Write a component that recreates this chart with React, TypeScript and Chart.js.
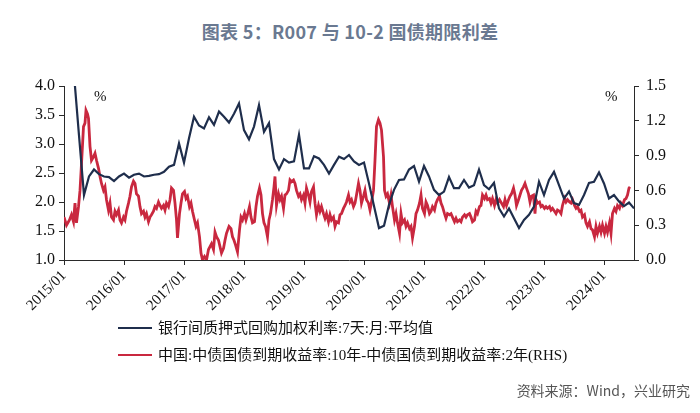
import React, { useEffect, useRef } from 'react';
import { Chart, registerables } from 'chart.js';

Chart.register(...registerables);

// x positions are months since 2015/01
const xTickLabels = ['2015/01', '2016/01', '2017/01', '2018/01', '2019/01', '2020/01', '2021/01', '2022/01', '2023/01', '2024/01'];

const leftTicks = [1.0, 1.5, 2.0, 2.5, 3.0, 3.5, 4.0];
const rightTicks = [0.0, 0.3, 0.6, 0.9, 1.2, 1.5];

// 银行间质押式回购加权利率:7天:月:平均值 (monthly, from 2015/01)
const r007Values = [
  4.5, 4.7, 4.2, 3.15, 2.12, 2.44, 2.56, 2.48, 2.44, 2.43, 2.36, 2.44,
  2.49, 2.42, 2.47, 2.49, 2.44, 2.45, 2.47, 2.48, 2.52, 2.61, 2.64, 3.01,
  2.68, 3.10, 3.47, 3.32, 3.27, 3.46, 3.33, 3.56, 3.47, 3.37, 3.52, 3.70,
  3.24, 3.08, 3.30, 3.67, 3.21, 3.36, 2.74, 2.56, 2.74, 2.68, 2.70, 3.16,
  2.58, 2.58, 2.79, 2.75, 2.64, 2.49, 2.64, 2.78, 2.74, 2.81, 2.70, 2.64,
  2.68, 2.32, 1.93, 1.55, 1.59, 1.95, 2.21, 2.38, 2.39, 2.56, 2.62, 2.35,
  2.62, 2.44, 2.21, 2.12, 2.18, 2.43, 2.24, 2.24, 2.38, 2.25, 2.29, 2.56,
  2.29, 2.22, 2.33, 1.89, 1.75, 1.89, 1.72, 1.55, 1.69, 1.78, 1.92, 2.35,
  2.12, 2.38, 2.52, 2.29, 2.06, 2.18, 1.98, 1.95, 2.12, 2.33, 2.35, 2.51,
  2.32, 2.06, 2.12, 2.01, 1.93, 1.99, 1.89,
];

// 10Y - 2Y treasury spread (RHS): sample positions (months since 2015/01) and values
const spreadMonths = [
  0.0, 0.5, 1.1, 1.5, 1.9, 2.2, 2.5, 2.9, 3.2, 3.5, 3.9, 4.2, 4.4, 4.7, 4.9, 5.2, 5.5, 5.9, 6.2, 6.5, 6.9,
  7.2, 7.5, 7.9, 8.2, 8.5, 8.9, 9.2, 9.5, 9.9, 10.2, 10.5, 10.9, 11.2, 11.5, 11.9, 12.2, 12.5, 12.9,
  13.2, 13.5, 13.9, 14.2, 14.5, 14.9, 15.2, 15.5, 15.9, 16.2, 16.5, 16.9, 17.2, 17.5, 17.9, 18.2, 18.5,
  18.9, 19.2, 19.5, 19.9, 20.2, 20.5, 20.9, 21.2, 21.5, 21.9, 22.2, 22.5, 22.7, 23.1, 23.4, 23.7, 24.1,
  24.4, 24.7, 25.1, 25.4, 25.7, 26.1, 26.4, 26.7, 27.1, 27.4, 27.7, 28.1, 28.5, 28.9, 29.2, 29.5, 29.9,
  30.2, 30.5, 30.9, 31.2, 31.5, 31.9, 32.2, 32.5, 33.0, 33.4, 33.7, 34.0, 34.3, 34.7, 35.1, 35.4, 35.7,
  36.1, 36.4, 36.7, 37.1, 37.4, 37.7, 38.1, 38.4, 38.7, 39.1, 39.4, 39.7, 40.0, 40.3, 40.7, 41.0, 41.3,
  41.7, 42.0, 42.2, 42.5, 42.9, 43.2, 43.5, 43.9, 44.2, 44.5, 44.9, 45.2, 45.5, 45.9, 46.2, 46.5, 46.9,
  47.2, 47.5, 47.9, 48.2, 48.5, 48.9, 49.2, 49.5, 49.9, 50.2, 50.5, 50.9, 51.2, 51.5, 51.9, 52.2, 52.5,
  52.9, 53.2, 53.5, 53.9, 54.2, 54.5, 54.9, 55.2, 55.5, 55.9, 56.2, 56.5, 56.9, 57.2, 57.5, 57.9, 58.2,
  58.5, 58.9, 59.2, 59.5, 59.9, 60.2, 60.5, 60.9, 61.2, 61.5, 61.9, 62.2, 62.5, 62.9, 63.2, 63.5, 63.9,
  64.1, 64.4, 64.7, 65.1, 65.4, 65.7, 66.1, 66.4, 66.7, 67.1, 67.4, 67.7, 68.1, 68.4, 68.7, 69.1, 69.4,
  69.7, 70.1, 70.4, 70.7, 71.1, 71.4, 71.7, 72.1, 72.4, 72.7, 73.1, 73.4, 73.7, 74.1, 74.4, 74.7, 75.1,
  75.4, 75.7, 76.1, 76.4, 76.7, 77.1, 77.4, 77.7, 78.1, 78.4, 78.7, 79.1, 79.4, 79.7, 80.1, 80.4, 80.7,
  81.1, 81.4, 81.7, 82.1, 82.4, 82.7, 83.1, 83.4, 83.7, 84.1, 84.4, 84.7, 85.1, 85.4, 85.7, 86.1, 86.4,
  86.7, 87.1, 87.5, 87.9, 88.2, 88.5, 88.9, 89.2, 89.5, 89.9, 90.2, 90.5, 90.9, 91.2, 91.5, 91.9, 92.2,
  92.5, 92.9, 93.2, 93.5, 93.9, 94.2, 94.4, 94.7, 95.1, 95.4, 95.7, 96.1, 96.4, 96.7, 97.1, 97.4, 97.7,
  98.1, 98.4, 98.7, 99.1, 99.4, 99.7, 100.1, 100.4, 100.7, 101.1, 101.4, 101.7, 102.1, 102.4, 102.7,
  103.1, 103.4, 103.7, 104.1, 104.4, 104.7, 105.1, 105.4, 105.7, 106.1, 106.4, 106.7, 107.1, 107.4,
  107.7, 108.1, 108.4, 108.7, 109.1, 109.4, 109.7, 110.1, 110.4, 110.7, 111.1, 111.4, 111.7, 112.1,
  112.4, 112.7, 113.0, 113.2,
];

const spreadValues = [
  0.37, 0.30, 0.345, 0.39, 0.33, 0.49, 0.32, 0.46, 0.60, 0.83, 1.15, 1.18, 1.29, 1.26, 1.22, 0.98, 0.86, 0.89, 0.92, 0.86, 0.79,
  0.72, 0.66, 0.60, 0.63, 0.52, 0.43, 0.49, 0.37, 0.345, 0.42, 0.39, 0.43, 0.345, 0.32, 0.37, 0.345, 0.42, 0.49,
  0.55, 0.63, 0.68, 0.66, 0.57, 0.55, 0.46, 0.40, 0.42, 0.37, 0.40, 0.33, 0.37, 0.39, 0.42, 0.46, 0.445,
  0.50, 0.47, 0.445, 0.47, 0.43, 0.49, 0.46, 0.52, 0.62, 0.60, 0.49, 0.345, 0.19, 0.40, 0.49, 0.57, 0.59,
  0.53, 0.55, 0.46, 0.49, 0.42, 0.345, 0.29, 0.32, 0.20, 0.06, 0.0, 0.03, 0.0, 0.09, 0.115, 0.14, 0.09,
  0.24, 0.20, 0.17, 0.115, 0.06, 0.10, 0.17, 0.23, 0.29, 0.27, 0.20, 0.17, 0.13, 0.07, 0.26, 0.37, 0.345,
  0.40, 0.345, 0.39, 0.46, 0.37, 0.32, 0.33, 0.46, 0.55, 0.62, 0.56, 0.40, 0.32, 0.29, 0.20, 0.345, 0.40,
  0.52, 0.63, 0.72, 0.47, 0.57, 0.52, 0.55, 0.445, 0.56, 0.57, 0.60, 0.69, 0.675, 0.69, 0.66, 0.60, 0.55,
  0.57, 0.52, 0.56, 0.49, 0.62, 0.56, 0.50, 0.59, 0.63, 0.49, 0.39, 0.47, 0.42, 0.46, 0.40, 0.36, 0.40,
  0.33, 0.39, 0.345, 0.37, 0.29, 0.33, 0.32, 0.39, 0.40, 0.445, 0.47, 0.50, 0.56, 0.50, 0.52, 0.46, 0.49,
  0.56, 0.66, 0.60, 0.49, 0.55, 0.60, 0.52, 0.49, 0.43, 0.50, 0.60, 0.86, 1.15, 1.21, 1.18, 1.12, 0.89,
  0.60, 0.55, 0.57, 0.49, 0.56, 0.46, 0.345, 0.40, 0.32, 0.23, 0.40, 0.32, 0.345, 0.29, 0.32, 0.27, 0.29,
  0.19, 0.29, 0.40, 0.43, 0.49, 0.56, 0.445, 0.40, 0.50, 0.47, 0.40, 0.42, 0.46, 0.43, 0.49, 0.52, 0.55,
  0.49, 0.46, 0.40, 0.36, 0.40, 0.39, 0.40, 0.37, 0.33, 0.36, 0.33, 0.345, 0.33, 0.37, 0.39, 0.37, 0.39,
  0.40, 0.37, 0.33, 0.345, 0.42, 0.40, 0.46, 0.47, 0.56, 0.53, 0.56, 0.52, 0.53, 0.49, 0.53, 0.47, 0.52,
  0.49, 0.52, 0.49, 0.46, 0.52, 0.47, 0.52, 0.55, 0.57, 0.62, 0.56, 0.47, 0.52, 0.56, 0.60, 0.63, 0.66,
  0.62, 0.57, 0.50, 0.55, 0.56, 0.40, 0.52, 0.49, 0.50, 0.46, 0.47, 0.445, 0.46, 0.445, 0.46, 0.43, 0.445,
  0.42, 0.40, 0.43, 0.42, 0.40, 0.47, 0.53, 0.50, 0.52, 0.50, 0.49, 0.52, 0.47, 0.445, 0.46,
  0.42, 0.43, 0.37, 0.39, 0.32, 0.29, 0.33, 0.27, 0.26, 0.20, 0.29, 0.23, 0.29, 0.24,
  0.30, 0.23, 0.29, 0.24, 0.32, 0.23, 0.40, 0.445, 0.42, 0.47, 0.445, 0.49, 0.47, 0.52,
  0.53, 0.56, 0.62, 0.63,
];

const seriesNames = [
  '银行间质押式回购加权利率:7天:月:平均值',
  '中国:中债国债到期收益率:10年-中债国债到期收益率:2年(RHS)',
];
const seriesColors = ['#1f2e4c', '#c9283f'];

const W = 700;
const H = 413;
const serif = '"Liberation Serif", "Times New Roman", serif';
const cjk = '"Liberation Serif", "Noto Sans CJK SC", serif';

export default function App() {
  const ref = useRef<HTMLCanvasElement | null>(null);

  useEffect(() => {
    const canvas = ref.current;
    if (!canvas) return;
    const blue = r007Values.map((v, i) => ({ x: i, y: v }));
    const red = spreadMonths.map((m, i) => ({ x: m, y: spreadValues[i] }));
    const axisColor = '#2a2a2a';
    const chart = new Chart(canvas, {
      type: 'line',
      data: {
        datasets: [
          {
            label: seriesNames[0],
            data: blue,
            yAxisID: 'y',
            borderColor: seriesColors[0],
            borderWidth: 2.2,
            pointRadius: 0,
            tension: 0,
          },
          {
            label: seriesNames[1],
            data: red,
            yAxisID: 'y1',
            borderColor: seriesColors[1],
            borderWidth: 2.8,
            pointRadius: 0,
            tension: 0,
          },
        ],
      },
      options: {
        responsive: false,
        animation: false,
        devicePixelRatio: 1,
        layout: { padding: { left: 0, right: 0, top: 86, bottom: 93 } },
        plugins: {
          legend: { display: false },
          tooltip: { enabled: false },
          title: { display: false },
        },
        scales: {
          x: {
            type: 'linear',
            min: 0,
            max: 114,
            afterBuildTicks: (scale: any) => {
              scale.ticks = xTickLabels.map((_, i) => ({ value: i * 12 }));
            },
            afterFit: (scale: any) => {
              scale.height = 60;
            },
            ticks: {
              autoSkip: false,
              minRotation: 45,
              maxRotation: 45,
              padding: 2,
              color: '#111',
              font: { family: serif, size: 15 },
              callback: (v: any) => xTickLabels[Math.round(Number(v) / 12)] ?? '',
            },
            grid: { display: true, drawOnChartArea: false, drawTicks: true, tickLength: 5, color: axisColor },
            border: { display: true, color: axisColor, width: 1 },
          },
          y: {
            type: 'linear',
            position: 'left',
            min: 1.0,
            max: 4.0,
            afterBuildTicks: (scale: any) => {
              scale.ticks = leftTicks.map((v) => ({ value: v }));
            },
            afterFit: (scale: any) => {
              scale.width = 64;
            },
            ticks: {
              padding: 4,
              color: '#111',
              font: { family: serif, size: 16 },
              callback: (v: any) => Number(v).toFixed(1),
            },
            grid: { display: true, drawOnChartArea: false, drawTicks: true, tickLength: 5, color: axisColor },
            border: { display: true, color: axisColor, width: 1 },
          },
          y1: {
            type: 'linear',
            position: 'right',
            min: 0,
            max: 1.5,
            afterBuildTicks: (scale: any) => {
              scale.ticks = rightTicks.map((v) => ({ value: v }));
            },
            afterFit: (scale: any) => {
              scale.width = 66;
            },
            ticks: {
              padding: 7,
              color: '#111',
              font: { family: serif, size: 16 },
              callback: (v: any) => Number(v).toFixed(1),
            },
            grid: { display: true, drawOnChartArea: false, drawTicks: true, tickLength: 5, color: axisColor },
            border: { display: true, color: axisColor, width: 1 },
          },
        },
      },
    });
    return () => chart.destroy();
  }, []);

  return (
    <div style={{ position: 'fixed', left: 0, top: 0, width: W, height: H, background: '#fff', overflow: 'hidden' }}>
      <div
        style={{
          position: 'absolute',
          left: 0,
          top: 19,
          width: W,
          textAlign: 'center',
          fontFamily: '"Noto Sans CJK SC", "Noto Sans", sans-serif',
          fontSize: 18,
          fontWeight: 700,
          lineHeight: '24px',
          letterSpacing: '0.3px',
          color: '#6a7991',
        }}
      >
        图表 5：R007 与 10-2 国债期限利差
      </div>
      <canvas ref={ref} width={W} height={H} style={{ position: 'absolute', left: 0, top: 0, width: W, height: H }} />
      <div style={{ position: 'absolute', left: 94, top: 87, fontFamily: serif, fontSize: 15, lineHeight: '18px', color: '#111' }}>%</div>
      <div style={{ position: 'absolute', left: 605, top: 87, fontFamily: serif, fontSize: 15, lineHeight: '18px', color: '#111' }}>%</div>
      {seriesNames.map((name, i) => (
        <div
          key={name}
          style={{ position: 'absolute', left: 118, top: 317 + i * 27, height: 22, display: 'flex', alignItems: 'center' }}
        >
          <div style={{ width: 34, height: 2.5, background: seriesColors[i], marginRight: 6 }} />
          <div style={{ fontFamily: cjk, fontSize: 15, lineHeight: '22px', color: '#111', whiteSpace: 'nowrap' }}>{name}</div>
        </div>
      ))}
      <div
        style={{
          position: 'absolute',
          right: 10,
          top: 380,
          fontFamily: '"Noto Sans CJK SC", sans-serif',
          fontSize: 14,
          lineHeight: '20px',
          color: '#555',
          whiteSpace: 'nowrap',
        }}
      >
        资料来源：Wind，兴业研究
      </div>
    </div>
  );
}
